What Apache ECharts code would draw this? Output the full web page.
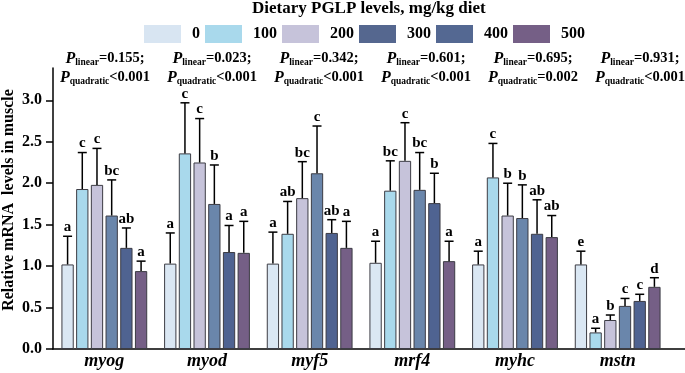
<!DOCTYPE html>
<html>
<head>
<meta charset="utf-8">
<script src="https://cdn.jsdelivr.net/npm/echarts@6/dist/echarts.min.js"></script>
<style>
  html, body { margin: 0; padding: 0; background: #fff; }
  #chart { width: 685px; height: 373px; }
</style>
</head>
<body>
<div id="chart"></div>
<script>
const genes = ['myog', 'myod', 'myf5', 'mrf4', 'myhc', 'mstn']
const levels = ['0', '100', '200', '300', '400', '500']

// mean relative expression per PGLP level, one value per gene
const level0 = [1.02, 1.03, 1.03, 1.04, 1.02, 1.02]
const level100 = [1.93, 2.36, 1.39, 1.91, 2.07, 0.20]
const level200 = [1.98, 2.25, 1.82, 2.27, 1.61, 0.35]
const level300 = [1.61, 1.75, 2.12, 1.92, 1.58, 0.52]
const level400 = [1.22, 1.17, 1.40, 1.76, 1.39, 0.58]
const level500 = [0.94, 1.16, 1.22, 1.06, 1.35, 0.75]

// upper error bar (SD)
const sd0 = [0.34, 0.37, 0.38, 0.26, 0.16, 0.16]
const sd100 = [0.44, 0.61, 0.39, 0.36, 0.41, 0.05]
const sd200 = [0.44, 0.53, 0.44, 0.46, 0.39, 0.06]
const sd300 = [0.43, 0.47, 0.57, 0.45, 0.40, 0.09]
const sd400 = [0.24, 0.32, 0.16, 0.36, 0.41, 0.08]
const sd500 = [0.12, 0.38, 0.32, 0.24, 0.26, 0.11]

// significance letters
const let0 = ['a', 'a', 'a', 'a', 'a', 'e']
const let100 = ['c', 'c', 'ab', 'bc', 'c', 'a']
const let200 = ['c', 'c', 'bc', 'c', 'b', 'b']
const let300 = ['bc', 'b', 'c', 'bc', 'b', 'c']
const let400 = ['ab', 'a', 'ab', 'b', 'ab', 'c']
const let500 = ['a', 'a', 'a', 'a', 'ab', 'd']

const pLinear = ['0.155', '0.023', '0.342', '0.601', '0.695', '0.931']
const pQuadratic = ['<0.001', '<0.001', '<0.001', '<0.001', '=0.002', '<0.001']

const yTicks = [0, 0.5, 1, 1.5, 2, 2.5, 3]

const means = [level0, level100, level200, level300, level400, level500]
const sds = [sd0, sd100, sd200, sd300, sd400, sd500]
const letters = [let0, let100, let200, let300, let400, let500]

const barColors = ['#dae7f3', '#a9d9ec', '#c6c3da', '#6a86ab', '#4f6391', '#755f86']
const legendColors = ['#d8e5f2', '#a9d9ec', '#c6c3da', '#55678f', '#546892', '#755f86']

const FONT = "'Liberation Serif', 'Times New Roman', serif"
const barWidth = 12.3
const barStride = 14.7
const yMax = 3.39

const errData = []
means.forEach((arr, s) => arr.forEach((m, c) => errData.push([c, s, m, sds[s][c]])))
const errLetters = []
letters.forEach(arr => arr.forEach(l => errLetters.push(l)))

const chart = echarts.init(document.getElementById('chart'))

const barSeries = levels.map((lv, s) => ({
  name: lv,
  type: 'bar',
  xAxisIndex: 1,
  yAxisIndex: 1,
  barWidth: barWidth,
  barGap: ((barStride - barWidth) / barWidth * 100).toFixed(1) + '%',
  data: means[s],
  silent: true,
  itemStyle: { color: barColors[s], borderColor: '#3c3c44', borderWidth: 1 },
}))

const errSeries = {
  type: 'custom',
  xAxisIndex: 1,
  yAxisIndex: 1,
  z: 5,
  silent: true,
  data: errData,
  renderItem: (params, api) => {
    const c = api.value(0)
    const s = api.value(1)
    const m = api.value(2)
    const sd = api.value(3)
    const p0 = api.coord([c, m])
    const y1 = api.coord([c, m + sd])[1]
    const x = p0[0] + (s - 2.5) * barStride
    return {
      type: 'group',
      children: [
        { type: 'line', shape: { x1: x, y1: p0[1], x2: x, y2: y1 }, style: { stroke: '#000', lineWidth: 1.5 } },
        { type: 'line', shape: { x1: x - 4.5, y1: y1, x2: x + 4.5, y2: y1 }, style: { stroke: '#000', lineWidth: 1.5 } },
        {
          type: 'text',
          style: {
            text: errLetters[params.dataIndex],
            x: x, y: y1 - 1.5,
            align: 'center', verticalAlign: 'bottom',
            font: 'bold 15px ' + FONT, fill: '#000',
          },
        },
      ],
    }
  },
}

const pRich = {
  p: { fontFamily: FONT, fontStyle: 'italic', fontWeight: 'bold', fontSize: 16, color: '#000', lineHeight: 19 },
  s: { fontFamily: FONT, fontWeight: 'bold', fontSize: 9.5, color: '#000', padding: [8, 0, 0, 0] },
  n: { fontFamily: FONT, fontWeight: 'bold', fontSize: 14.5, color: '#000', lineHeight: 19 },
}

const annotations = genes.map((g, i) => ({
  type: 'text',
  x: 105 + i * 107,
  y: 49,
  silent: true,
  style: {
    text: '{p|P}{s|linear}{n|=' + pLinear[i] + ';}\n{p|P}{s|quadratic}{n|' + pQuadratic[i] + '}',
    rich: pRich,
    align: 'center',
    verticalAlign: 'top',
  },
}))

const option = {
  backgroundColor: '#fff',
  animation: false,
  title: {
    text: 'Dietary PGLP levels, mg/kg diet',
    left: 252,
    top: 0,
    padding: 0,
    textStyle: { fontFamily: FONT, fontWeight: 'bold', fontSize: 17, color: '#000' },
  },
  legend: {
    left: 144,
    top: 25,
    padding: 0,
    icon: 'rect',
    itemWidth: 37,
    itemHeight: 18,
    itemGap: 5,
    selectedMode: false,
    itemStyle: { borderWidth: 0 },
    textStyle: { fontFamily: FONT, fontWeight: 'bold', fontSize: 16, color: '#000', padding: [0, 0, 0, 6] },
    data: levels.map((lv, s) => ({ name: lv, itemStyle: { color: legendColors[s], borderWidth: 0 } })),
  },
  grid: [
    { left: 53, right: 0, top: 68, bottom: 24 },
    { left: 53, width: 616, top: 68, bottom: 24 },
  ],
  xAxis: [
    {
      type: 'value', gridIndex: 0, min: 0, max: 1,
      axisLine: { show: true, lineStyle: { color: '#000', width: 1.5 } },
      axisTick: { show: false }, axisLabel: { show: false }, splitLine: { show: false },
    },
    {
      type: 'category', gridIndex: 1, data: genes,
      axisLine: { show: false }, axisTick: { show: false },
      axisLabel: {
        margin: 3,
        fontFamily: FONT, fontStyle: 'italic', fontWeight: 'bold', fontSize: 18, color: '#000',
      },
    },
  ],
  yAxis: [
    {
      type: 'value', gridIndex: 0, min: 0, max: yMax, interval: 0.5,
      axisLine: { show: true, lineStyle: { color: '#000', width: 1.5 } },
      axisTick: { show: true, inside: false, length: 7, customValues: yTicks, lineStyle: { color: '#000', width: 1.5 } },
      axisLabel: {
        margin: 11, customValues: yTicks,
        formatter: v => v.toFixed(1),
        fontFamily: FONT, fontWeight: 'bold', fontSize: 16, color: '#000',
      },
      splitLine: { show: false },
    },
    { type: 'value', gridIndex: 1, min: 0, max: yMax, show: false },
  ],
  graphic: [
    {
      type: 'text',
      x: 9,
      y: 200,
      rotation: Math.PI / 2,
      silent: true,
      style: {
        text: 'Relative mRNA  levels in muscle',
        align: 'center', verticalAlign: 'middle',
        font: 'bold 16px ' + FONT, fill: '#000',
      },
    },
    ...annotations,
  ],
  series: [...barSeries, errSeries],
}

chart.setOption(option)
window.addEventListener('resize', () => chart.resize())
</script>
</body>
</html>
